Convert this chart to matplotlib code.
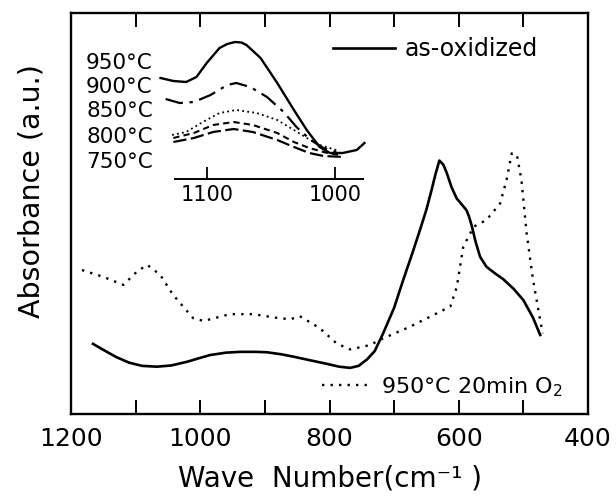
import numpy as np
import matplotlib
matplotlib.use("Agg")
import matplotlib.pyplot as plt
from matplotlib.lines import Line2D

# main spectra (wave number in cm-1, absorbance in arbitrary units)
solid_wn = [1166, 1150, 1130, 1110, 1090, 1067, 1045, 1021, 1000, 985, 960, 938, 915, 897, 875,
            856, 830, 804, 785, 768, 755, 742, 730, 717, 700, 686, 672, 660, 650, 642, 636, 630,
            624, 619, 611, 603, 595, 588, 584, 580, 574, 567, 557, 545, 531, 515, 500, 485, 474]
solid_ab = [0.175, 0.160, 0.142, 0.128, 0.120, 0.118, 0.121, 0.130, 0.140, 0.147, 0.153, 0.155,
            0.155, 0.154, 0.149, 0.143, 0.134, 0.125, 0.118, 0.115, 0.120, 0.136, 0.157, 0.201,
            0.265, 0.334, 0.400, 0.459, 0.510, 0.559, 0.598, 0.632, 0.622, 0.603, 0.565, 0.537,
            0.522, 0.508, 0.492, 0.470, 0.430, 0.392, 0.367, 0.352, 0.336, 0.312, 0.284, 0.240, 0.197]

dot_wn = [1183, 1150, 1119, 1098, 1082, 1062, 1042, 1011, 995, 954, 918, 887, 861, 846, 815,
          789, 768, 737, 722, 675, 613, 603, 593, 577, 557, 536, 526, 518, 510, 503, 495, 485, 474, 470]
dot_ab = [0.359, 0.342, 0.322, 0.355, 0.372, 0.347, 0.297, 0.239, 0.232, 0.249, 0.249, 0.241, 0.236,
          0.244, 0.214, 0.176, 0.161, 0.172, 0.185, 0.218, 0.268, 0.317, 0.417, 0.467, 0.484, 0.525,
          0.584, 0.650, 0.646, 0.584, 0.451, 0.334, 0.234, 0.201]

# inset: Si-O band for different oxidation temperatures
t950_wn = [1136, 1126, 1116, 1108, 1100, 1090, 1084, 1078, 1073, 1069, 1058, 1045, 1032, 1022,
           1012, 1004, 994, 983, 977]
t950_ab = [101, 98, 97, 102, 116, 131, 135, 137, 136.5, 134, 121, 96, 69, 49, 32, 26, 26, 29, 36]
t900_wn = [1132, 1121, 1110, 1097, 1084, 1077, 1066, 1053, 1040, 1030, 1019, 1009, 999]
t900_ab = [80, 76, 77, 84, 94, 96, 92, 82, 67, 52, 39, 31, 27]
t850_wn = [1127, 1116, 1103, 1090, 1077, 1061, 1045, 1032, 1022, 1012, 999]
t850_ab = [44, 47, 57, 66, 69, 66, 59, 49, 41, 34, 29]
t800_wn = [1126, 1110, 1095, 1079, 1064, 1045, 1032, 1020, 1006, 996]
t800_ab = [41, 46, 54, 57, 54, 46, 37, 31, 26, 24]
t750_wn = [1126, 1110, 1095, 1079, 1064, 1045, 1032, 1020, 1009, 993]
t750_ab = [37, 41, 47, 50, 47, 39, 32, 26, 23, 22]

temp_labels = ["950°C", "900°C", "850°C", "800°C", "750°C"]

W, H = 616, 496
fig = plt.figure(figsize=(W / 100, H / 100), dpi=100)

# main axes
ax = fig.add_axes([71 / W, 1 - 414 / H, 517 / W, 401 / H])
ax.plot(solid_wn, solid_ab, color="black", lw=1.9)
ax.plot(dot_wn, dot_ab, color="black", lw=1.7, linestyle=(0, (1, 2.6)))
ax.set_xlim(1200, 400)
ax.set_ylim(0, 1)
ax.set_xticks([1200, 1000, 800, 600, 400])
ax.set_xticks([1100, 900, 700, 500], minor=True)
ax.set_yticks([])
ax.tick_params(axis="x", which="both", direction="in", top=True, length=10, width=1.4,
               labelsize=18, pad=9)
for s in ax.spines.values():
    s.set_linewidth(1.7)
ax.set_xlabel("Wave  Number(cm⁻¹ )", fontsize=20, labelpad=10)
ax.set_ylabel("Absorbance (a.u.)", fontsize=20.5)
ax.yaxis.set_label_coords(-0.05, 0.555)

h1 = Line2D([], [], color="black", lw=1.9)
h2 = Line2D([], [], color="black", lw=1.7, linestyle=(0, (1, 2.6)))
leg1 = ax.legend([h1], ["as-oxidized"], loc="center left", bbox_to_anchor=(0.507, 0.910),
                 frameon=False, fontsize=17, handlelength=2.6, handletextpad=0.42,
                 borderpad=0, borderaxespad=0)
ax.add_artist(leg1)
ax.legend([h2], ["950°C 20min O$_2$"], loc="center left", bbox_to_anchor=(0.4855, 0.068),
          frameon=False, fontsize=16, handlelength=2.2, handletextpad=0.45,
          borderpad=0, borderaxespad=0)

# inset
ins = fig.add_axes([155 / W, 1 - 179 / H, 215 / W, 154 / H])
ins.patch.set_alpha(0)
ins.plot(t950_wn, t950_ab, color="black", lw=1.7)
ins.plot(t900_wn, t900_ab, color="black", lw=1.6, linestyle=(0, (8, 3, 1.5, 3)))
ins.plot(t850_wn, t850_ab, color="black", lw=1.3, linestyle=(0, (1, 1.8)))
ins.plot(t800_wn, t800_ab, color="black", lw=1.5, linestyle=(0, (3, 2)))
ins.plot(t750_wn, t750_ab, color="black", lw=1.6, linestyle=(0, (6, 2)))
ins.set_xlim(1140.3, 972.7)
ins.set_ylim(0, 154)
for side in ["top", "left", "right"]:
    ins.spines[side].set_visible(False)
ins.spines["bottom"].set_bounds(1124.7, 978)
ins.spines["bottom"].set_linewidth(1.4)
ins.set_yticks([])
ins.set_xticks([1100, 1000])
ins.tick_params(axis="x", direction="in", length=9, width=1.3, labelsize=15, pad=4)

for i, lab in enumerate(temp_labels):
    yc = [63, 87, 111, 137, 162][i]
    fig.text(86 / W, 1 - yc / H, lab, fontsize=15.5, ha="left", va="center")

fig.savefig("out.png", dpi=100)
